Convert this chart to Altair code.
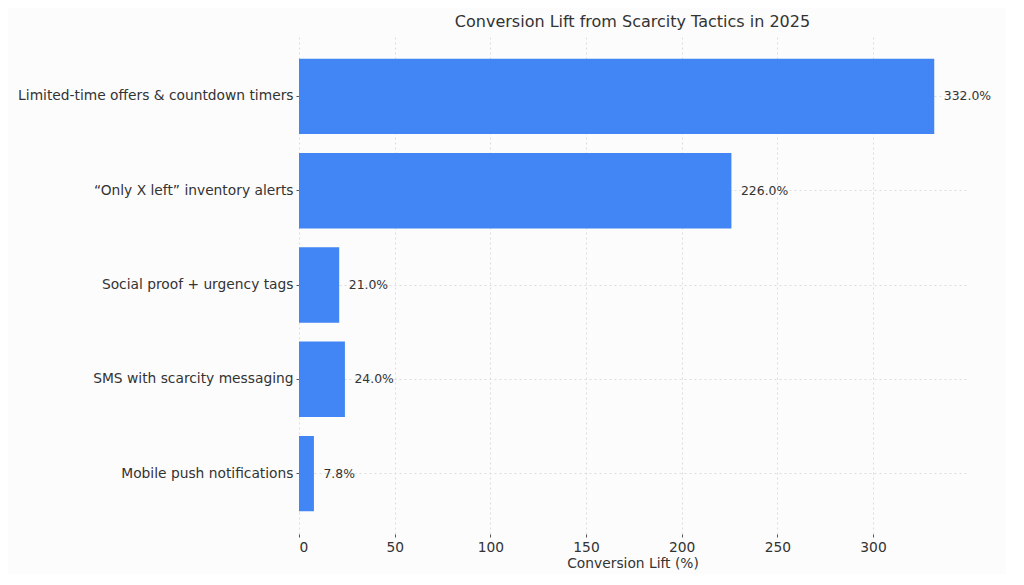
import altair as alt
import pandas as pd

tactics = [
    "Limited-time offers & countdown timers",
    "\u201cOnly X left\u201d inventory alerts",
    "Social proof + urgency tags",
    "SMS with scarcity messaging",
    "Mobile push notifications",
]
lift = [332.0, 226.0, 21.0, 24.0, 7.8]
label_text = ["332.0%", "226.0%", "21.0%", "24.0%", "7.8%"]

df = pd.DataFrame({"tactic": tactics, "lift": lift, "label": label_text})

FONT = "DejaVu Sans"
TXT = "#333333"

y_enc = alt.Y(
    "tactic:N",
    sort=tactics,
    title=None,
    scale=alt.Scale(paddingInner=0.2, paddingOuter=0.24),
    axis=alt.Axis(
        bandPosition=0.5,
        grid=True,
        gridDash=[2, 3],
        gridColor="#dddddd",
        domain=False,
        tickSize=3,
        tickColor="#555555",
        labelFontSize=13.8,
        labelColor=TXT,
        labelFont=FONT,
        labelPadding=3,
        labelLimit=400,
    ),
)

x_enc = alt.X(
    "lift:Q",
    title="Conversion Lift (%)",
    scale=alt.Scale(domain=[0, 348.6], nice=False, zero=True),
    axis=alt.Axis(
        values=[0, 50, 100, 150, 200, 250, 300],
        grid=True,
        gridDash=[2, 3],
        gridColor="#dddddd",
        domain=False,
        tickSize=3,
        tickColor="#555555",
        labelFontSize=13.8,
        labelColor=TXT,
        labelFont=FONT,
        labelPadding=3,
        titleFontSize=13.8,
        titleFont=FONT,
        titleColor=TXT,
        titleFontWeight="normal",
        titlePadding=3,
    ),
)

bars = alt.Chart(df).mark_bar(color="#4285F4").encode(x=x_enc, y=y_enc)

text = (
    alt.Chart(df)
    .transform_calculate(lx="datum.lift + 5")
    .mark_text(align="left", baseline="middle", font=FONT, fontSize=12.4, color=TXT)
    .encode(
        x=alt.X("lx:Q"),
        y=alt.Y("tactic:N", sort=tactics),
        text="label:N",
    )
)

chart = (
    alt.layer(bars, text)
    .properties(
        width=667,
        height=498,
        background="#fcfcfc",
        autosize=alt.AutoSizeParams(type="none"),
        padding={"left": 291, "top": 28, "right": 40, "bottom": 40},
        title=alt.Title(
            "Conversion Lift from Scarcity Tactics in 2025",
            fontSize=16,
            font=FONT,
            color=TXT,
            fontWeight="normal",
            anchor="middle",
            offset=6,
        ),
    )
    .configure_view(stroke=None)
)

chart.save("out.html", embed_options={"renderer": "svg", "actions": False})
